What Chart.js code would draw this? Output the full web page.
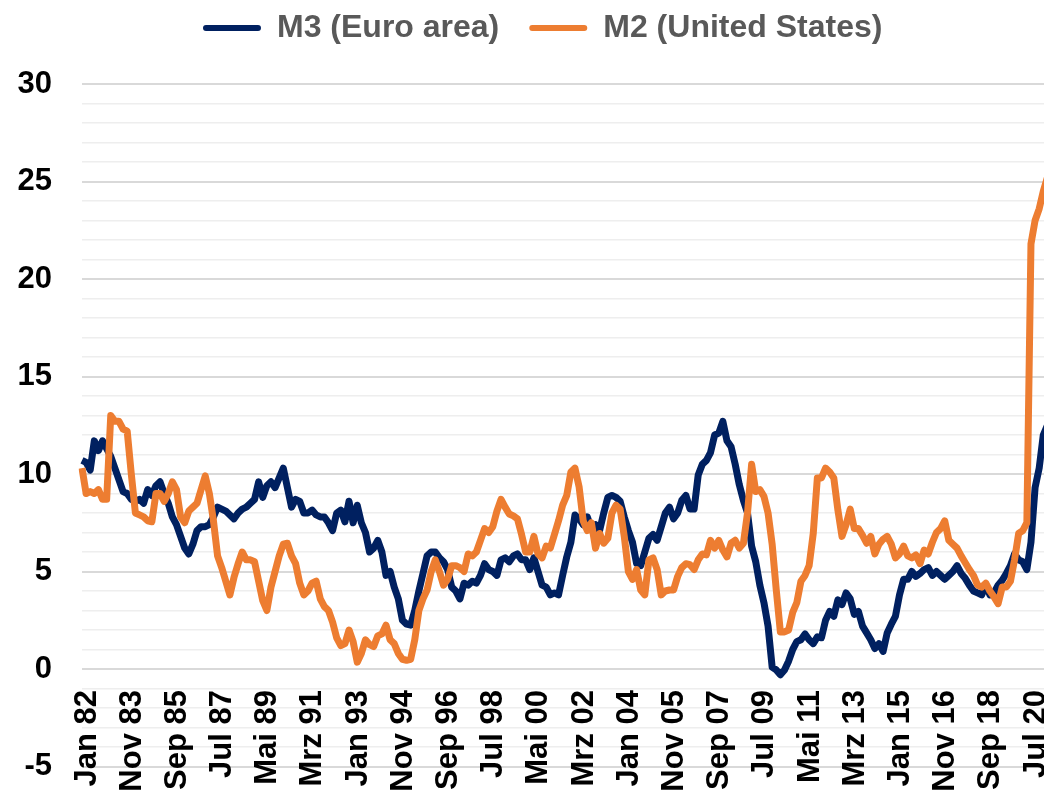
<!DOCTYPE html>
<html>
<head>
<meta charset="utf-8">
<script src="https://cdn.jsdelivr.net/npm/chart.js@4/dist/chart.umd.min.js"></script>
<style>
  html, body { margin: 0; padding: 0; overflow: hidden; background: #fff; }
  #wrap { width: 1094px; height: 791px; }
</style>
</head>
<body>
<div id="wrap"><canvas id="myChart" width="1094" height="791"></canvas></div>
<script>
// year-on-year growth in %, one value every two months, Jan 1982 .. Mar 2021
const m3EuroArea = [
    10.7, 10.6, 10.2, 11.7, 11.2, 11.7, 11.3, 10.9, 10.3, 9.7, 9.1, 9.0,
    8.7, 8.6, 8.7, 8.5, 9.2, 8.9, 9.4, 9.6, 9.0, 8.5, 7.8, 7.4,
    6.8, 6.2, 5.9, 6.4, 7.1, 7.3, 7.3, 7.4, 7.8, 8.3, 8.2, 8.1,
    7.9, 7.7, 8.0, 8.2, 8.3, 8.5, 8.7, 9.6, 8.8, 9.4, 9.6, 9.3,
    9.8, 10.3, 9.3, 8.3, 8.7, 8.6, 8.0, 8.0, 8.15, 7.9, 7.8, 7.8,
    7.5, 7.1, 8.0, 8.15, 7.55, 8.6, 7.5, 8.4, 7.5, 7.0, 6.0, 6.2,
    6.6, 6.0, 4.8, 5.0, 4.2, 3.6, 2.5, 2.3, 2.25, 3.0, 4.0, 4.9,
    5.8, 6.0, 6.0, 5.7, 5.5, 5.1, 4.2, 4.0, 3.6, 4.4, 4.3, 4.5,
    4.4, 4.8, 5.4, 5.1, 5.0, 4.8, 5.6, 5.7, 5.5, 5.8, 5.9, 5.6,
    5.6, 5.1, 5.7, 5.0, 4.3, 4.2, 3.8, 3.9, 3.8, 4.8, 5.75, 6.5,
    7.9, 7.7, 7.4, 7.8, 7.2, 7.4, 7.1, 8.0, 8.8, 8.9, 8.8, 8.6,
    7.8, 7.1, 6.5, 5.4, 5.3, 6.0, 6.7, 6.9, 6.6, 7.3, 8.0, 8.3,
    7.7, 8.0, 8.65, 8.9, 8.2, 8.2, 9.95, 10.5, 10.7, 11.1, 12.0, 12.1,
    12.7, 11.7, 11.4, 10.5, 9.45, 8.65, 8.0, 6.3, 5.5, 4.3, 3.4, 2.2,
    0.1, -0.05, -0.3, -0.05, 0.4, 1.0, 1.4, 1.5, 1.8, 1.5, 1.3, 1.65,
    1.6, 2.5, 2.95, 2.7, 3.55, 3.3, 3.9, 3.6, 2.8, 2.95, 2.2, 1.85,
    1.5, 1.05, 1.3, 0.9, 1.85, 2.3, 2.7, 3.8, 4.6, 4.6, 5.0, 4.75,
    4.9, 5.1, 5.2, 4.8, 5.0, 4.8, 4.6, 4.8, 5.0, 5.3, 4.9, 4.65,
    4.3, 4.0, 3.9, 3.8, 4.3, 3.8, 3.9, 4.3, 4.55, 4.9, 5.3, 5.9,
    5.6, 5.5, 5.1, 6.5, 9.3, 10.3, 12.0, 12.5
]
const m2UnitedStates = [
    10.3, 9.0, 9.1, 9.0, 9.2, 8.7, 8.7, 13.0, 12.7, 12.7, 12.3, 12.2,
    10.0, 8.0, 7.9, 7.8, 7.6, 7.55, 9.0, 9.0, 8.6, 9.0, 9.6, 9.2,
    7.8, 7.5, 8.1, 8.3, 8.5, 9.2, 9.9, 9.0, 7.6, 5.8, 5.2, 4.5,
    3.8, 4.7, 5.4, 6.0, 5.6, 5.6, 5.5, 4.5, 3.5, 3.0, 4.2, 5.0,
    5.8, 6.4, 6.45, 5.8, 5.4, 4.4, 3.8, 4.0, 4.4, 4.5, 3.6, 3.2,
    3.0, 2.4, 1.6, 1.2, 1.3, 2.0, 1.4, 0.35, 0.8, 1.5, 1.25, 1.15,
    1.7, 1.8, 2.25, 1.5, 1.3, 0.8, 0.5, 0.45, 0.5, 1.5, 3.0, 3.6,
    4.05, 5.0, 5.6, 5.0, 4.3, 4.6, 5.3, 5.3, 5.2, 5.0, 5.9, 5.8,
    6.0, 6.6, 7.2, 7.0, 7.3, 8.1, 8.7, 8.3, 7.95, 7.85, 7.7, 6.9,
    6.0, 6.0, 6.8, 5.9, 5.7, 6.3, 6.2, 6.9, 7.6, 8.4, 8.9, 10.1,
    10.3, 9.35, 7.6, 7.1, 7.5, 6.2, 6.95, 6.45, 6.7, 8.0, 8.4, 8.2,
    6.8, 5.0, 4.6, 5.1, 4.05, 3.8, 5.6, 5.7, 5.1, 3.8, 4.0, 4.05,
    4.05, 4.75, 5.2, 5.4, 5.35, 5.1, 5.6, 5.9, 5.85, 6.6, 6.2, 6.6,
    6.1, 5.75, 6.45, 6.6, 6.2, 6.45, 8.0, 10.5, 9.1, 9.2, 8.85, 8.0,
    6.4, 4.05, 1.9, 1.9, 2.0, 2.9, 3.4, 4.5, 4.8, 5.3, 6.95, 9.8,
    9.8, 10.3, 10.1, 9.8, 8.15, 6.8, 7.4, 8.2, 7.2, 7.2, 6.85, 6.45,
    6.8, 5.9, 6.4, 6.65, 6.8, 6.4, 5.7, 5.9, 6.3, 5.8, 5.7, 5.85,
    5.4, 6.1, 5.9, 6.5, 7.0, 7.2, 7.6, 6.6, 6.4, 6.2, 5.8, 5.45,
    5.1, 4.8, 4.3, 4.2, 4.4, 4.0, 3.7, 3.35, 4.2, 4.2, 4.5, 5.6,
    6.95, 7.1, 7.5, 21.8, 23.0, 23.6, 24.5, 25.2
]

const monthNames = ['Jan', 'Feb', 'Mrz', 'Apr', 'Mai', 'Jun', 'Jul', 'Aug', 'Sep', 'Okt', 'Nov', 'Dez']
const labels = []
for (let i = 0; i < m3EuroArea.length; i++) {
    const m = i * 2
    const yr = (1982 + Math.floor(m / 12)) % 100
    labels.push(monthNames[m % 12] + ' ' + String(yr).padStart(2, '0'))
}
const labelEvery = 11 // one tick label every 22 months

const fontFamily = 'Liberation Sans, Arial, sans-serif'
const tickFont = { family: fontFamily, size: 31, weight: 'bold' }
const legendFont = { family: fontFamily, size: 32, weight: 'bold' }

// room between legend and plot, and legend centred on the full picture
const legendTweak = {
    id: 'legendTweak',
    beforeInit(chart) {
        const fit = chart.legend.fit
        chart.legend.fit = function () {
            fit.call(this)
            this.height += 30
        }
    },
    afterLayout(chart) {
        chart.legend.left += 19
        chart.legend.right += 19
    }
}

const chart = new Chart(document.getElementById('myChart'), {
    type: 'line',
    data: {
        labels: labels,
        datasets: [
            {
                label: 'M3 (Euro area)',
                data: m3EuroArea,
                borderColor: '#002060',
                backgroundColor: '#002060',
                borderWidth: 7,
                pointRadius: 0,
                borderJoinStyle: 'round',
                order: 1
            },
            {
                label: 'M2 (United States)',
                data: m2UnitedStates,
                borderColor: '#ED7D31',
                backgroundColor: '#ED7D31',
                borderWidth: 7,
                pointRadius: 0,
                borderJoinStyle: 'round',
                order: 0
            }
        ]
    },
    options: {
        responsive: false,
        animation: false,
        layout: { padding: { top: -18, left: 0, right: 46.6, bottom: 24.5 } },
        plugins: {
            tooltip: { enabled: false },
            legend: {
                labels: {
                    boxWidth: 58,
                    boxHeight: 6,
                    padding: 30,
                    color: '#595959',
                    font: legendFont,
                    useBorderRadius: true,
                    borderRadius: 3,
                    generateLabels: (c) => Chart.defaults.plugins.legend.labels.generateLabels(c)
                        .map(item => ({ ...item, lineWidth: 0 }))
                        .sort((a, b) => a.datasetIndex - b.datasetIndex)
                }
            }
        },
        scales: {
            x: {
                position: { y: 0 },
                afterFit: (s) => { s.height = 0 },
                grid: { display: false, drawTicks: false },
                border: { display: false },
                ticks: {
                    autoSkip: false,
                    minRotation: 90,
                    maxRotation: 90,
                    padding: 21,
                    labelOffset: 5,
                    color: '#000',
                    font: tickFont,
                    callback: function (v, i) {
                        return i % labelEvery === 0 ? this.getLabelForValue(v) : null
                    }
                }
            },
            y: {
                min: -5,
                max: 30,
                afterFit: (s) => {
                    s.width = 82
                    s.paddingTop = 0
                    s.paddingBottom = 0
                },
                border: { display: false },
                grid: {
                    drawTicks: false,
                    color: (c) => c.tick.value % 5 === 0 ? '#d9d9d9' : '#eeeeee',
                    lineWidth: (c) => c.tick.value % 5 === 0 ? 2 : 1.5
                },
                ticks: {
                    stepSize: 1,
                    autoSkip: false,
                    padding: 30,
                    color: '#000',
                    font: tickFont,
                    callback: (v) => v % 5 === 0 ? v : ''
                }
            }
        }
    },
    plugins: [legendTweak]
})
</script>
</body>
</html>
